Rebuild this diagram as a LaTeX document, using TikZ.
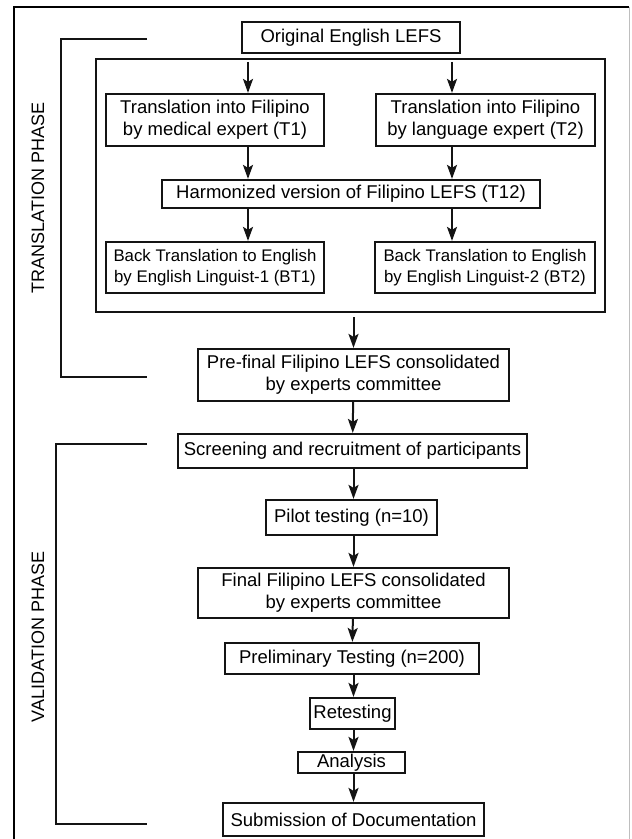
\documentclass[tikz,border=0pt]{standalone}
\usepackage{fontspec}
\setmainfont{Liberation Sans}
\usepackage{tikz}
\usetikzlibrary{arrows.meta, positioning, calc}
\usepackage{xcolor}
\definecolor{ink}{RGB}{20,20,20}
\definecolor{edge}{RGB}{190,190,190}

\begin{document}
\begin{tikzpicture}[x=1pt, y=-1pt,
  stage/.style={draw=ink, line width=2.2pt, align=center, inner sep=0pt,
    font=\fontsize{18.5}{22}\selectfont},
  small/.style={font=\fontsize{16.8}{21}\selectfont},
  arr/.style={-{Stealth[length=14pt, width=10pt, inset=3pt]}, line width=2pt, ink},
  bracket/.style={line width=2.4pt, ink}]
  \useasboundingbox (0,0) rectangle (632,839);
  % Frame
  \draw[line width=2.8pt, black] (14,839) -- (14,7) -- (629,7);
  \draw[edge, line width=1pt] (629,7) -- (629,839);
  % Translation phase
  \node[stage, minimum width=218, minimum height=31] (orig) at (351,37.5) {Original English LEFS};
  \node[draw=ink, line width=2.2pt, minimum width=509, minimum height=253] (inner) at (350.5,185.5) {};
  \coordinate (colL) at (248,0);
  \coordinate (colR) at (452,0);
  \node[stage, minimum width=218, minimum height=52] (t1) at (215,120) {Translation into Filipino\\by medical expert (T1)};
  \node[stage, minimum width=219, minimum height=52] (t2) at (485.5,120) {Translation into Filipino\\by language expert (T2)};
  \node[stage, minimum width=378, minimum height=28] (harm) at (351,194) {Harmonized version of Filipino LEFS (T12)};
  \node[stage, small, minimum width=218, minimum height=51] (bt1) at (215,267.5) {Back Translation to English\\by English Linguist-1 (BT1)};
  \node[stage, small, minimum width=220, minimum height=51] (bt2) at (485,267.5) {Back Translation to English\\by English Linguist-2 (BT2)};
  \node[stage, minimum width=311, minimum height=52] (prefinal) at (353.5,375) {Pre-final Filipino LEFS consolidated\\by experts committee};
  % Validation phase
  \node[stage, minimum width=349, minimum height=34] (screen) at (352.5,451) {Screening and recruitment of participants};
  \node[stage, minimum width=171, minimum height=35] (pilot) at (351.5,517.5) {Pilot testing (n=10)};
  \node[stage, minimum width=311, minimum height=50] (final) at (353.5,593) {Final Filipino LEFS consolidated\\by experts committee};
  \node[stage, minimum width=254, minimum height=31] (prelim) at (352,658.5) {Preliminary Testing (n=200)};
  \node[stage, minimum width=85, minimum height=31] (retest) at (352.5,713.5) {Retesting};
  \node[stage, minimum width=107, minimum height=21] (analysis) at (351.5,762.5) {Analysis};
  \node[stage, minimum width=261, minimum height=33] (submit) at (353.5,819.5) {Submission of Documentation};
  % Arrows
  \draw[arr, shorten <=4pt] (inner.north -| colL) -- (t1.north -| colL);
  \draw[arr, shorten <=4pt] (inner.north -| colR) -- (t2.north -| colR);
  \draw[arr] (t1.south -| colL) -- (harm.north -| colL);
  \draw[arr] (t2.south -| colR) -- (harm.north -| colR);
  \draw[arr] (harm.south -| colL) -- (bt1.north -| colL);
  \draw[arr] (harm.south -| colR) -- (bt2.north -| colR);
  \draw[arr, shorten <=4pt] (prefinal.north |- inner.south) -- (prefinal.north);
  \draw[arr] (prefinal) -- (screen);
  \draw[arr] (screen.south -| prefinal) -- (pilot.north -| prefinal);
  \draw[arr] (pilot.south -| prefinal) -- (final.north);
  \draw[arr] (final) -- (prelim);
  \draw[arr] (prelim.south -| prefinal) -- (retest.north -| prefinal);
  \draw[arr] (retest.south -| prefinal) -- (analysis.north -| prefinal);
  \draw[arr] (analysis.south -| prefinal) -- (submit.north);
  % Phase brackets
  \draw[bracket] (147,39) -- (61,39) -- (61,377) -- (147,377);
  \node[rotate=90, font=\fontsize{18}{22}\selectfont] (tlabel) at (38,198) {TRANSLATION PHASE};
  \draw[bracket] (147,444) -- (56,444) -- (56,824) -- (147,824);
  \node[rotate=90, font=\fontsize{18}{22}\selectfont] (vlabel) at (38,637) {VALIDATION PHASE};
\end{tikzpicture}
\end{document}
